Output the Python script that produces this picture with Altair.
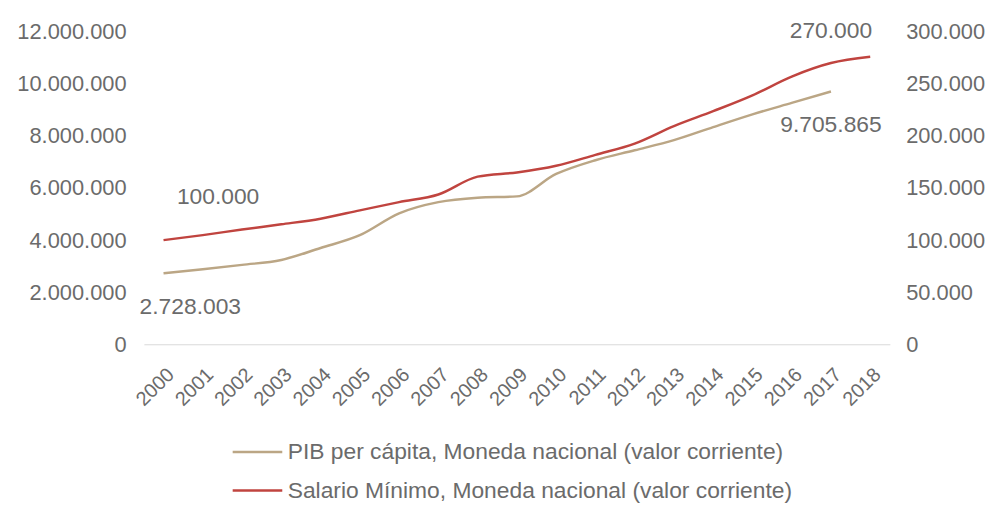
import altair as alt
import pandas as pd

years = [str(y) for y in range(2000, 2019)]
pib = [2728003, 2880000, 3050000, 3240000, 3700000, 4190000, 5030000, 5460000,
       5630000, 5680000, 6540000, 7070000, 7450000, 7840000, 8340000, 8830000,
       9270000, 9705865, None]
sal = [100000, 104800, 110200, 115200, 120600, 128600, 136500, 143800, 161000,
       165000, 171400, 181900, 192700, 209500, 223800, 239000, 257000, 270000,
       276000]
series = ["PIB per cápita, Moneda nacional (valor corriente)",
          "Salario Mínimo, Moneda nacional (valor corriente)"]
colors = ["#bba685", "#c0443f"]

df = pd.DataFrame({"year": years, "pib": pib, "sal": sal})

FONT = "Liberation Sans"
GRAY = "#6b6b6b"

x = alt.X("year:O", scale=alt.Scale(type="point", padding=0.5),
          axis=alt.Axis(title=None, labelAngle=-45, labelFontSize=20,
                        labelColor=GRAY, labelFont=FONT, ticks=False,
                        domainColor="#d9d9d9", domainWidth=1, labelPadding=20))

color = alt.Color("serie:N", scale=alt.Scale(domain=series, range=colors),
                  legend=alt.Legend(title=None, orient="none", legendX=88, legendY=397,
                                    direction="vertical", symbolType="stroke",
                                    symbolSize=2500, symbolStrokeWidth=2.5,
                                    labelFontSize=23, labelFont=FONT, labelColor=GRAY,
                                    labelOffset=4, rowPadding=-15, labelLimit=700))

y_left = alt.Y("pib:Q", scale=alt.Scale(domain=[0, 12000000]),
               axis=alt.Axis(title=None, values=list(range(0, 12000001, 2000000)),
                             format=",d", labelFontSize=22, labelFont=FONT,
                             labelColor=GRAY, domain=False, ticks=False, grid=False,
                             labelPadding=18))
y_right = alt.Y("sal:Q", scale=alt.Scale(domain=[0, 300000]),
                axis=alt.Axis(title=None, orient="right",
                              values=list(range(0, 300001, 50000)),
                              format=",d", labelFontSize=22, labelFont=FONT,
                              labelColor=GRAY, domain=False, ticks=False, grid=False,
                              labelPadding=16))

base = alt.Chart(df)

pib_line = base.transform_filter("datum.pib != null").transform_calculate(
    serie="'" + series[0] + "'").mark_line(strokeWidth=2.5, interpolate="monotone").encode(
    x=x, y=y_left, color=color)
pib_t0 = base.transform_filter("datum.year == '2000'").mark_text(
    fontSize=23, font=FONT, color=GRAY, dx=27, dy=34).encode(
    x=x, y=y_left, text=alt.Text("pib:Q", format=",d"))
pib_t1 = base.transform_filter("datum.year == '2017'").mark_text(
    fontSize=23, font=FONT, color=GRAY, dx=0, dy=34).encode(
    x=x, y=y_left, text=alt.Text("pib:Q", format=",d"))

sal_line = base.transform_calculate(
    serie="'" + series[1] + "'").mark_line(strokeWidth=2.5, interpolate="monotone").encode(
    x=x, y=y_right, color=color)
sal_t0 = base.transform_filter("datum.year == '2000'").mark_text(
    fontSize=23, font=FONT, color=GRAY, dx=55, dy=-43).encode(
    x=x, y=y_right, text=alt.Text("sal:Q", format=",d"))
sal_t1 = base.transform_filter("datum.year == '2017'").mark_text(
    fontSize=23, font=FONT, color=GRAY, dx=0, dy=-32).encode(
    x=x, y=y_right, text=alt.Text("sal:Q", format=",d"))

left = alt.layer(pib_line, pib_t0, pib_t1)
right = alt.layer(sal_line, sal_t0, sal_t1)

chart = alt.layer(left, right).resolve_scale(y="independent").properties(
    width=752, height=315,
    padding={"left": 137, "top": 22, "right": 105, "bottom": 160},
    autosize=alt.AutoSizeParams(type="none"),
).configure(
    view={"stroke": None},
    locale={"number": {"decimal": ",", "thousands": ".", "grouping": [3],
                       "currency": ["", ""]}}
)

chart.save("out.html", embed_options={"renderer": "svg", "actions": False})
